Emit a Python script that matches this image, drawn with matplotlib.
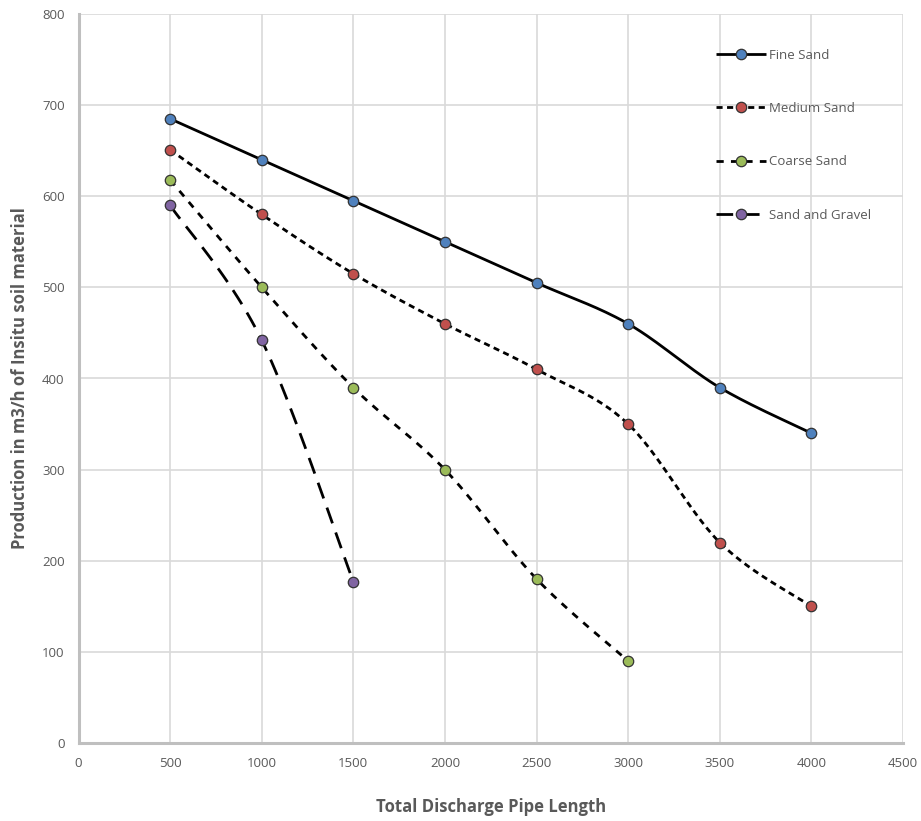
import numpy as np
import matplotlib
matplotlib.use("Agg")
import matplotlib.pyplot as plt
from matplotlib.lines import Line2D

# Data
fine_x = [500, 1000, 1500, 2000, 2500, 3000, 3500, 4000]
fine_y = [685, 640, 595, 550, 505, 460, 390, 340]
medium_x = [500, 1000, 1500, 2000, 2500, 3000, 3500, 4000]
medium_y = [651, 580, 515, 460, 410, 350, 220, 150]
coarse_x = [500, 1000, 1500, 2000, 2500, 3000]
coarse_y = [618, 500, 390, 300, 180, 90]
gravel_x = [500, 1000, 1500]
gravel_y = [590, 442, 177]
labels = ["Fine Sand", "Medium Sand", "Coarse Sand", "Sand and Gravel"]
x_ticks = [0, 500, 1000, 1500, 2000, 2500, 3000, 3500, 4000, 4500]
y_ticks = [0, 100, 200, 300, 400, 500, 600, 700, 800]

colors = ["#4F81BD", "#C0504D", "#9BBB59", "#8064A2"]
styles = [(0, ()), (0, (2.2, 1.6)), (0, (2.6, 2.6)), (0, (6, 3.5))]


def smooth(x, y, n=30):
    # Bezier smoothing (Excel-like) in normalized coords
    x = np.asarray(x, float) / 4500.0
    y = np.asarray(y, float) / 800.0
    P = np.column_stack([x, y])
    out = [P[0]]
    for i in range(len(P) - 1):
        p0 = P[i - 1] if i > 0 else P[i]
        p1 = P[i]
        p2 = P[i + 1]
        p3 = P[i + 2] if i + 2 < len(P) else P[i + 1]
        c1 = p1 + (p2 - p0) / 6.0
        c2 = p2 - (p3 - p1) / 6.0
        t = np.linspace(0, 1, n)[1:, None]
        seg = ((1 - t) ** 3) * p1 + 3 * ((1 - t) ** 2) * t * c1 + 3 * (1 - t) * t ** 2 * c2 + t ** 3 * p2
        out.extend(seg)
    out = np.array(out)
    return out[:, 0] * 4500.0, out[:, 1] * 800.0


fig = plt.figure(figsize=(9.21, 8.21), dpi=100)
ax = fig.add_axes([78.5 / 921, (821 - 743) / 821, (903 - 78.5) / 921, (743 - 14) / 821])

font = "Open Sans"
series = [(fine_x, fine_y), (medium_x, medium_y), (coarse_x, coarse_y), (gravel_x, gravel_y)]
handles = []
for (xs, ys), c, ls, lab in zip(series, colors, styles, labels):
    sx, sy = smooth(xs, ys)
    ax.plot(sx, sy, color="black", lw=2.0, linestyle=ls, zorder=3)
    ax.plot(xs, ys, linestyle="none", marker="o", markersize=7.5,
            markerfacecolor=c, markeredgecolor="#333333", markeredgewidth=0.9, zorder=4)
    handles.append(Line2D([0], [0], color="black", lw=2.0, linestyle=ls, marker="o",
                          markersize=7.5, markerfacecolor=c, markeredgecolor="#333333",
                          markeredgewidth=0.9))

ax.set_xlim(0, 4500)
ax.set_ylim(0, 800)
ax.set_xticks(x_ticks)
ax.set_yticks(y_ticks)
ax.grid(True, color="#D9D9D9", lw=1.2)
ax.set_axisbelow(True)
for s in ["top", "right"]:
    ax.spines[s].set_visible(False)
for s in ["left", "bottom"]:
    ax.spines[s].set_color("#BFBFBF")
    ax.spines[s].set_linewidth(2.2)
ax.tick_params(length=0, colors="#595959", labelsize=9.5, pad=10)
for t in ax.get_xticklabels() + ax.get_yticklabels():
    t.set_fontfamily(font)
    t.set_color("#595959")

ax.set_xlabel("Total Discharge Pipe Length", fontsize=12, fontweight="bold",
              color="#595959", family=font, labelpad=20)
ax.set_ylabel("Production in m3/h of Insitu soil material", fontsize=12, fontweight="bold",
              color="#595959", family=font, labelpad=9)

leg = ax.legend(handles, labels, loc="upper left", bbox_to_anchor=(704 / 921, 1 - 37 / 821),
                bbox_transform=fig.transFigure, frameon=False, handlelength=3.8,
                handletextpad=0.2, labelspacing=3.05, prop={"family": font, "size": 9.5})
for t in leg.get_texts():
    t.set_color("#595959")

fig.savefig("out.png", dpi=100)
